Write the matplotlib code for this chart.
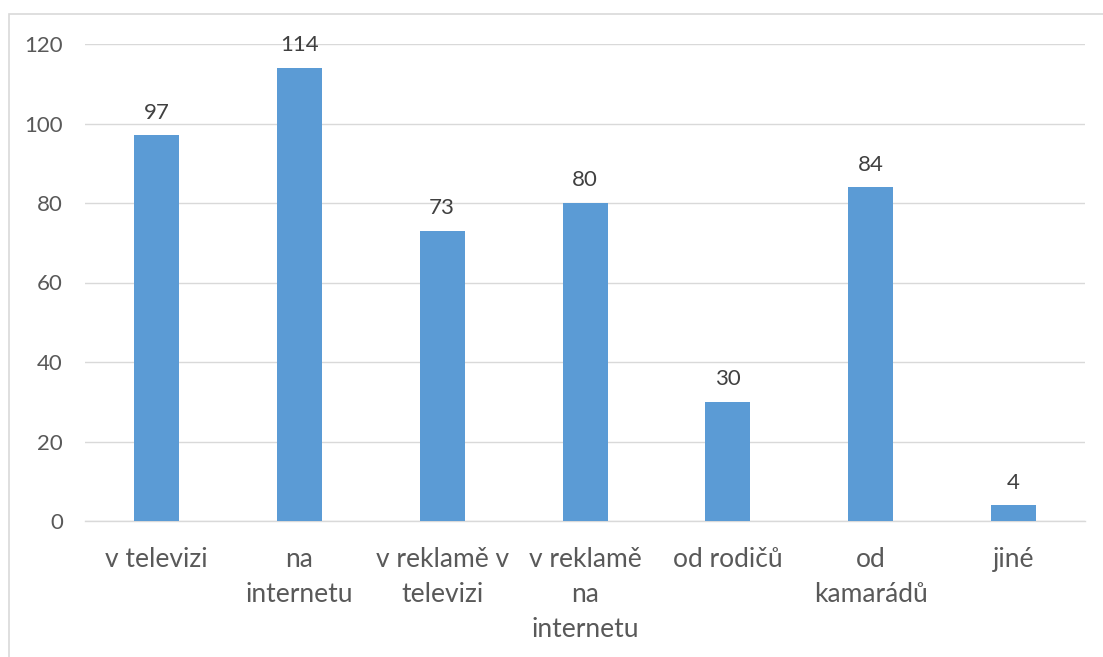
import matplotlib
matplotlib.use("Agg")
import matplotlib.pyplot as plt
from matplotlib.patches import Rectangle

categories = ["v televizi", "na\ninternetu", "v reklamě v\ntelevizi", "v reklamě\nna\ninternetu",
              "od rodičů", "od\nkamarádů", "jiné"]
values = [97, 114, 73, 80, 30, 84, 4]
yticks = [0, 20, 40, 60, 80, 100, 120]

plt.rcParams['font.family'] = ['Lato', 'DejaVu Sans']
txt = '#595959'

fig = plt.figure(figsize=(11.03, 6.57), dpi=100)
fig.patches.append(Rectangle((9/1103, -0.05), 1.2, 1 - 14/657 + 0.05, transform=fig.transFigure,
                             fill=False, edgecolor='#d9d9d9', linewidth=1.2))
ax = fig.add_axes([85/1103, 1 - 521/657, 1000/1103, (521 - 44)/657])
x = list(range(len(categories)))
bars = ax.bar(x, values, width=0.315, color='#5b9bd5', zorder=3)
ax.set_xlim(-0.5, len(categories) - 0.5)
ax.set_ylim(0, 120)
ax.set_yticks(yticks)
ax.set_yticklabels([str(v) for v in yticks])
ax.grid(axis='y', color='#d9d9d9', linewidth=1, zorder=0)
for s in ['top', 'right', 'left']:
    ax.spines[s].set_visible(False)
ax.spines['bottom'].set_color('#d9d9d9')
ax.spines['bottom'].set_linewidth(1)
ax.tick_params(axis='both', length=0, colors=txt)
ax.tick_params(axis='y', labelsize=16, pad=16)
ax.set_xticks(x)
ax.set_xticklabels(categories, fontsize=19, color=txt, linespacing=1.5, va='top')
ax.tick_params(axis='x', pad=19)
for xi, v in zip(x, values):
    ax.annotate(str(v), (xi, v), xytext=(0, 9), textcoords='offset points',
                ha='center', va='bottom', fontsize=16, color='#404040')
fig.savefig('out.png', dpi=100)
